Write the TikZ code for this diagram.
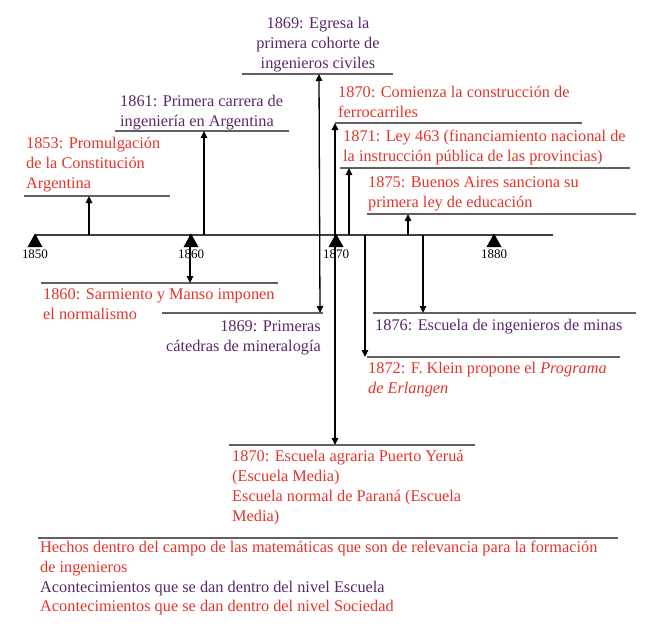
\documentclass[tikz,border=0pt]{standalone}
\usepackage{fontspec}
\setmainfont{Liberation Serif}
\usetikzlibrary{arrows.meta}
\definecolor{evred}{RGB}{228,52,42}
\definecolor{evpurple}{RGB}{90,40,105}
\begin{document}
\begin{tikzpicture}[x=1pt,y=-1pt,
  txt/.style={inner sep=0pt, font=\fontsize{16.3}{20}\selectfont, align=left, anchor=base west},
  soc/.style={txt, text=evred},
  esc/.style={txt, text=evpurple},
  uline/.style={draw=black!62, line width=1.1pt},
  arr/.style={-{Triangle[length=7pt,width=6.5pt]}, line width=1.3pt, black},
  darr/.style={{Triangle[length=7pt,width=6.5pt]}-{Triangle[length=7pt,width=6.5pt]}, line width=1.3pt, black},
  yearlab/.style={inner sep=0pt, font=\fontsize{13}{15}\selectfont, anchor=base}
]
\useasboundingbox (0,0) rectangle (665,643);
% axis
\draw[line width=1.5pt, black!75] (35,235) coordinate (ax0) -- (553,235) coordinate (ax1);
\foreach \x/\yr in {35/1850,191/1860,336/1870,494/1880}{
  \fill (\x,233.5) -- (\x+7.5,247) -- (\x-7.5,247) -- cycle;
  \node[yearlab] (y\yr) at (\x,258) {\yr};
}
% axis anchor points
\coordinate (a1853) at (89,235);
\coordinate (a1860) at (190,235);
\coordinate (a1861) at (204,235);
\coordinate (a1871) at (349,235);
\coordinate (a1872) at (365,235);
\coordinate (a1875) at (408,235);
\coordinate (a1876) at (423,235);

% (multi-line nodes: base anchor = baseline of last line)
% 1869 Egresa
\node[esc, anchor=base, align=center] (t1869a) at (318,68) {1869: Egresa la\\primera cohorte de\\ingenieros civiles};
\draw[uline] (242,74) -- (393,74);
\coordinate (u1869a) at (319,74);
% 1861
\node[esc] (t1861) at (120,126) {1861: Primera carrera de\\ingeniería en Argentina};
\draw[uline] (115,131) -- (289,131);
\coordinate (u1861) at (204,131);
% 1853
\node[soc] (t1853) at (26,188) {1853: Promulgación\\de la Constitución\\Argentina};
\draw[uline] (24,196) -- (170,196);
\coordinate (u1853) at (89,196);
% 1870 ferrocarriles
\node[soc] (t1870f) at (338,117) {1870: Comienza la construcción de\\ferrocarriles};
\draw[uline] (335,123) -- (582,123);
\coordinate (u1870f) at (335,123);
% 1871
\node[soc] (t1871) at (343,161) {1871: Ley 463 (financiamiento nacional de\\la instrucción pública de las provincias)};
\draw[uline] (340,168) -- (630,168);
\coordinate (u1871) at (349,168);
% 1875
\node[soc] (t1875) at (368,207) {1875: Buenos Aires sanciona su\\primera ley de educación};
\draw[uline] (367,214) -- (636,214);
\coordinate (u1875) at (408,214);
% 1860
\draw[uline] (41,283) -- (278,283);
\coordinate (u1860) at (190,283);
\node[soc] (t1860) at (43,319) {1860: Sarmiento y Manso imponen\\el normalismo};
% 1869 Primeras
\draw[uline] (162,313) -- (323,313);
\coordinate (u1869b) at (320,313);
\node[esc, anchor=base east, align=right] (t1869b) at (321,351) {1869: Primeras\\cátedras de mineralogía};
% 1876
\draw[uline] (373,313) -- (636,313);
\coordinate (u1876) at (423,313);
\node[esc] (t1876) at (375,330) {1876: Escuela de ingenieros de minas};
% 1872
\draw[uline] (367,357) -- (620,357);
\coordinate (u1872) at (365,357);
\node[soc] (t1872) at (368,393) {1872: F. Klein propone el \textit{Programa}\\\textit{de Erlangen}};
% 1870 Escuela agraria
\draw[uline] (229,445) -- (475,445);
\coordinate (u1870e) at (335,445);
\node[soc] (t1870e) at (232,521) {1870: Escuela agraria Puerto Yeruá\\(Escuela Media)\\Escuela normal de Paraná (Escuela\\Media)};

% arrows
\draw[arr] (a1853) -- (u1853);
\draw[arr] (a1861) -- (u1861);
\draw[arr] (a1860) -- (u1860);
\draw[darr] (u1869b) -- (u1869a);
\draw[darr] (u1870e) -- (u1870f);
\draw[arr] (a1871) -- (u1871);
\draw[arr] (a1875) -- (u1875);
\draw[arr] (a1872) -- (u1872);
\draw[arr] (a1876) -- (u1876);

% legend
\draw[draw=black!62, line width=1.6pt] (38,538) -- (618,538);
\node[soc] (l1) at (40,572) {Hechos dentro del campo de las matemáticas que son de relevancia para la formación\\de ingenieros};
\node[esc] (l2) at (40,592) {Acontecimientos que se dan dentro del nivel Escuela};
\node[soc] (l3) at (40,611) {Acontecimientos que se dan dentro del nivel Sociedad};
\end{tikzpicture}
\end{document}
